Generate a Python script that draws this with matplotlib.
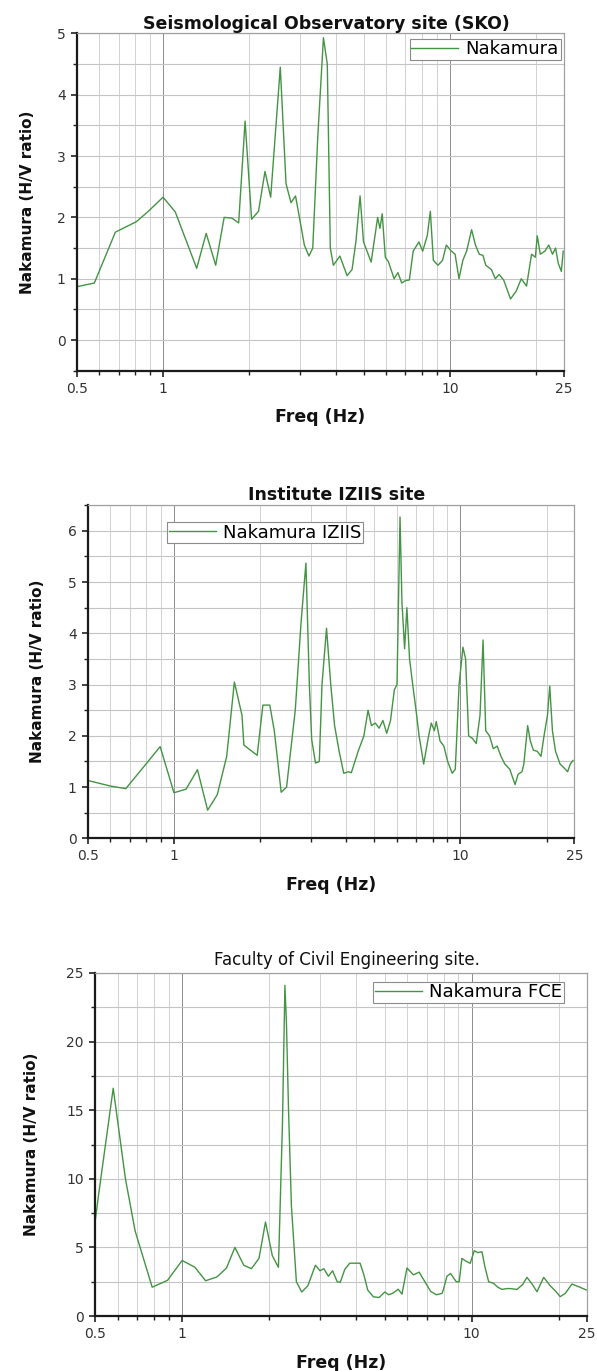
import matplotlib
matplotlib.use("Agg")
import matplotlib.pyplot as plt
from matplotlib.ticker import FixedLocator, NullFormatter, MultipleLocator

plt.rcParams['font.family'] = ['DejaVu Sans']

# ---------------- data ----------------
sko_freq = [0.50, 0.576, 0.682, 0.807, 0.884, 1.00, 1.103, 1.31, 1.414, 1.526, 1.633, 1.736, 1.835,
            1.932, 2.036, 2.152, 2.267, 2.373, 2.563, 2.684, 2.793, 2.897, 3.015, 3.109, 3.226,
            3.326, 3.462, 3.624, 3.738, 3.830, 3.925, 4.135, 4.383, 4.560, 4.702, 4.864, 5.00,
            5.316, 5.600, 5.704, 5.810, 5.956, 6.104, 6.391, 6.590, 6.795, 7.006, 7.224, 7.450,
            7.80, 8.04, 8.34, 8.55, 8.76, 9.09, 9.43, 9.72, 10.12, 10.43, 10.76, 11.10, 11.44,
            11.91, 12.28, 12.66, 13.05, 13.34, 13.96, 14.40, 14.85, 15.40, 16.28, 17.04, 17.74,
            18.51, 19.27, 19.87, 20.17, 20.67, 21.45, 22.12, 22.80, 23.37, 23.88, 24.47, 24.85]
sko_hv = [0.87, 0.93, 1.76, 1.93, 2.09, 2.33, 2.09, 1.17, 1.74, 1.22, 2.00, 1.99, 1.91,
          3.57, 1.97, 2.10, 2.75, 2.33, 4.45, 2.55, 2.24, 2.35, 1.90, 1.55, 1.37,
          1.50, 3.30, 4.93, 4.50, 1.50, 1.22, 1.37, 1.05, 1.15, 1.60, 2.35, 1.60,
          1.27, 2.00, 1.82, 2.06, 1.35, 1.28, 1.00, 1.10, 0.93, 0.97, 0.98, 1.45,
          1.60, 1.45, 1.70, 2.10, 1.30, 1.22, 1.30, 1.55, 1.45, 1.40, 1.00, 1.30, 1.45,
          1.80, 1.55, 1.40, 1.38, 1.22, 1.15, 1.00, 1.07, 0.98, 0.67, 0.80, 1.00,
          0.88, 1.40, 1.35, 1.70, 1.40, 1.45, 1.55, 1.40, 1.50, 1.25, 1.12, 1.45]

iziis_freq = [0.50, 0.601, 0.679, 0.804, 0.895, 1.00, 1.102, 1.208, 1.311, 1.416, 1.528, 1.625,
              1.728, 1.754, 1.952, 2.044, 2.160, 2.240, 2.367, 2.472, 2.651, 2.776, 2.888, 2.969,
              3.025, 3.119, 3.216, 3.286, 3.408, 3.526, 3.636, 3.772, 3.913, 4.071, 4.159, 4.395,
              4.601, 4.758, 4.891, 5.043, 5.200, 5.362, 5.528, 5.700, 5.877, 6.004, 6.152, 6.248,
              6.383, 6.501, 6.641, 6.848, 6.997, 7.171, 7.439, 7.741, 7.909, 8.106, 8.230, 8.486,
              8.750, 9.022, 9.359, 9.592, 9.89, 10.20, 10.42, 10.68, 11.01, 11.35, 11.70, 11.99,
              12.25, 12.63, 13.02, 13.43, 13.85, 14.28, 14.86, 15.18, 15.51, 15.89, 16.39, 16.64,
              17.16, 17.53, 17.97, 18.52, 19.10, 19.57, 20.12, 20.49, 20.94, 21.46, 22.26, 22.95,
              23.66, 24.17, 24.70]
iziis_hv = [1.13, 1.02, 0.97, 1.47, 1.79, 0.89, 0.96, 1.34, 0.55, 0.85, 1.60, 3.05,
            2.40, 1.82, 1.62, 2.60, 2.60, 2.10, 0.90, 1.00, 2.50, 4.20, 5.37, 3.00,
            1.93, 1.47, 1.50, 3.00, 4.10, 3.00, 2.20, 1.70, 1.27, 1.30, 1.28, 1.70,
            2.00, 2.50, 2.20, 2.25, 2.15, 2.30, 2.05, 2.30, 2.90, 3.00, 6.27, 4.60,
            3.70, 4.50, 3.50, 2.90, 2.50, 2.00, 1.45, 2.00, 2.25, 2.10, 2.28, 1.90,
            1.80, 1.50, 1.27, 1.35, 3.00, 3.73, 3.50, 2.00, 1.95, 1.85, 2.40, 3.87,
            2.10, 2.00, 1.75, 1.80, 1.60, 1.45, 1.35, 1.20, 1.05, 1.25, 1.30, 1.45,
            2.20, 1.90, 1.72, 1.70, 1.60, 2.00, 2.40, 2.97, 2.10, 1.70, 1.45, 1.38,
            1.30, 1.45, 1.52]

fce_freq = [0.50, 0.515, 0.578, 0.637, 0.688, 0.788, 0.890, 1.00, 1.107, 1.205, 1.319, 1.423,
            1.521, 1.632, 1.734, 1.842, 1.940, 2.048, 2.150, 2.220, 2.264, 2.292, 2.330, 2.384,
            2.480, 2.587, 2.716, 2.885, 2.992, 3.084, 3.199, 3.307, 3.430, 3.514, 3.645, 3.791,
            3.992, 4.115, 4.242, 4.373, 4.576, 4.788, 5.01, 5.166, 5.325, 5.572, 5.743, 5.975,
            6.291, 6.583, 6.889, 7.211, 7.545, 7.90, 8.00, 8.21, 8.45, 8.84, 9.05, 9.25, 9.55,
            9.88, 10.20, 10.50, 10.85, 11.10, 11.44, 11.90, 12.30, 12.72, 13.20, 13.58, 14.33,
            15.00, 15.51, 16.20, 16.80, 17.72, 18.67, 19.50, 20.21, 21.04, 22.19, 23.39, 24.86]
fce_hv = [6.8, 8.9, 16.6, 10.0, 6.2, 2.1, 2.6, 4.05, 3.55, 2.57, 2.85, 3.5,
          5.0, 3.7, 3.45, 4.2, 6.85, 4.4, 3.55, 14.0, 24.1, 21.3, 15.0, 8.0,
          2.5, 1.75, 2.2, 3.7, 3.3, 3.45, 2.9, 3.3, 2.5, 2.45, 3.4, 3.85,
          3.85, 3.85, 3.0, 1.9, 1.4, 1.35, 1.75, 1.55, 1.65, 1.95, 1.6, 3.5,
          3.0, 3.2, 2.5, 1.8, 1.55, 1.65, 2.0, 2.9, 3.1, 2.5, 2.5, 4.2, 4.0,
          3.84, 4.76, 4.62, 4.68, 3.6, 2.5, 2.38, 2.1, 1.94, 2.0, 2.0, 1.94,
          2.3, 2.82, 2.3, 1.77, 2.82, 2.2, 1.8, 1.41, 1.65, 2.33, 2.14, 1.9]

x_major = [0.5, 1, 10, 25]
x_major_labels = ['0.5', '1', '10', '25']
x_minor = [0.6, 0.7, 0.8, 0.9, 2, 3, 4, 5, 6, 7, 8, 9, 20]

LINE = '#449444'

fig = plt.figure(figsize=(5.97, 13.71), dpi=100)

panels = [
    dict(rect=[0.1285, 0.7296, 0.8162, 0.2460], x=sko_freq, y=sko_hv,
         ylim=(-0.5, 5), ymaj=1, ymin=0.5, title='Seismological Observatory site (SKO)',
         tweight='bold', tsize=12.5, tpad=3, label='Nakamura', lloc='upper right',
         lanchor=(0.993, 0.985), ylab_x=-0.086),
    dict(rect=[0.1469, 0.3885, 0.8154, 0.2430], x=iziis_freq, y=iziis_hv,
         ylim=(0, 6.5), ymaj=1, ymin=0.5, title='Institute IZIIS site',
         tweight='bold', tsize=12.5, tpad=4, label='Nakamura IZIIS', lloc='upper left',
         lanchor=(0.163, 0.95), ylab_x=-0.088),
    dict(rect=[0.1591, 0.0401, 0.8241, 0.2502], x=fce_freq, y=fce_hv,
         ylim=(0, 25), ymaj=5, ymin=2.5, title='Faculty of Civil Engineering site.',
         tweight='normal', tsize=12, tpad=6, label='Nakamura FCE', lloc='upper right',
         lanchor=(0.953, 0.975), ylab_x=-0.114),
]

for p in panels:
    ax = fig.add_axes(p['rect'])
    ax.plot(p['x'], p['y'], color=LINE, lw=1.0, label=p['label'])
    ax.set_xscale('log')
    ax.set_xlim(0.5, 25)
    ax.set_ylim(*p['ylim'])
    ax.xaxis.set_major_locator(FixedLocator(x_major))
    ax.set_xticklabels(x_major_labels)
    ax.xaxis.set_minor_locator(FixedLocator(x_minor))
    ax.xaxis.set_minor_formatter(NullFormatter())
    ax.yaxis.set_major_locator(MultipleLocator(p['ymaj']))
    ax.yaxis.set_minor_locator(MultipleLocator(p['ymin']))
    ax.grid(True, which='major', axis='x', color='#8c8c8c', lw=0.7)
    ax.grid(True, which='minor', axis='x', color='#d2d2d2', lw=0.7)
    ax.grid(True, which='both', axis='y', color='#c4c4c4', lw=0.8)
    ax.set_axisbelow(True)
    ax.tick_params(axis='both', which='major', direction='out', length=4.5, width=1.2,
                   labelsize=10, colors='#222222', labelcolor='#333333')
    ax.tick_params(axis='both', which='minor', direction='out', length=3, width=1.0, colors='#222222')
    for s in ('left', 'bottom'):
        ax.spines[s].set_color('#1a1a1a')
        ax.spines[s].set_linewidth(1.6)
    for s in ('top', 'right'):
        ax.spines[s].set_color('#a0a0a0')
        ax.spines[s].set_linewidth(0.9)
    ax.set_title(p['title'], fontsize=p['tsize'], fontweight=p['tweight'], pad=p['tpad'],
                 color='#111111', x=0.512)
    ax.set_xlabel('Freq (Hz)', fontsize=12.5, fontweight='bold', labelpad=9, color='#111111')
    ax.set_ylabel('Nakamura (H/V ratio)', fontsize=11, fontweight='bold', color='#111111')
    ax.yaxis.set_label_coords(p['ylab_x'], 0.5)
    leg = ax.legend(loc=p['lloc'], bbox_to_anchor=p['lanchor'], borderaxespad=0,
                    fancybox=False, framealpha=1, edgecolor='#8c8c8c', fontsize=13,
                    handlelength=2.6, handletextpad=0.4, borderpad=0.1)
    leg.get_frame().set_linewidth(0.8)

fig.savefig('out.png', dpi=100)
